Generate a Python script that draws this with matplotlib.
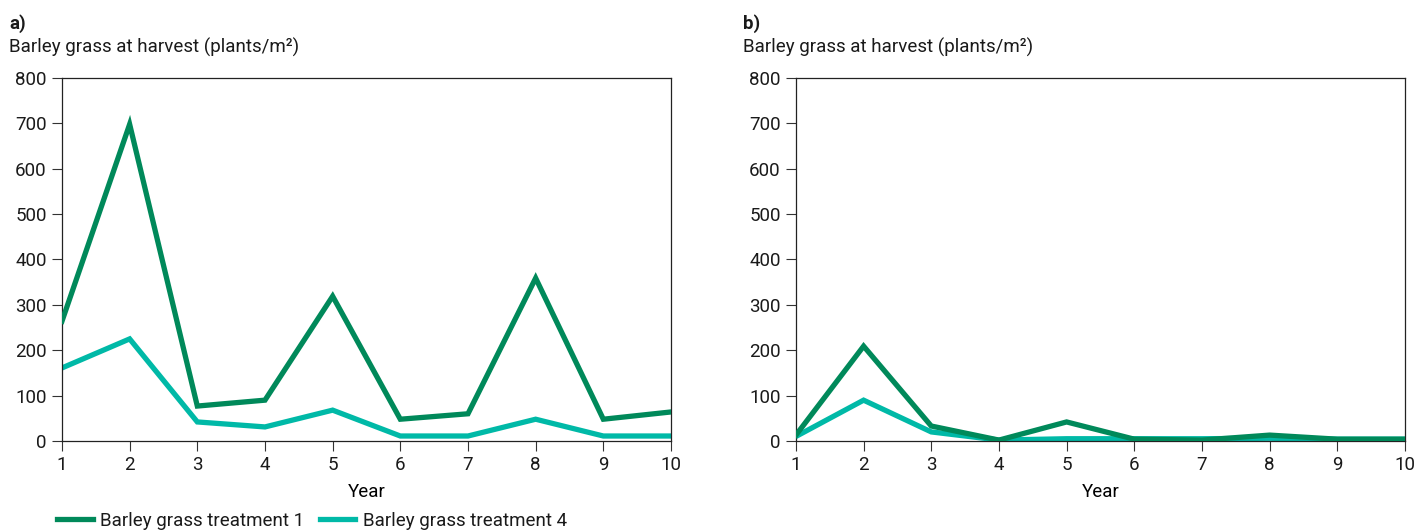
import matplotlib.pyplot as plt

years = [1, 2, 3, 4, 5, 6, 7, 8, 9, 10]
a_treat1 = [264, 698, 77, 90, 319, 48, 60, 359, 48, 64]
a_treat4 = [161, 225, 42, 31, 68, 11, 11, 48, 11, 11]
b_treat1 = [13, 209, 33, 2, 42, 4, 2, 13, 4, 4]
b_treat4 = [10, 90, 20, 2, 5, 5, 5, 6, 4, 4]
labels = ["Barley grass treatment 1", "Barley grass treatment 4"]
panels = ["a)", "b)"]

plt.rcParams['font.family'] = ['Roboto', 'DejaVu Sans']
plt.rcParams['text.color'] = '#1a1a1a'
plt.rcParams['xtick.color'] = '#333333'
plt.rcParams['ytick.color'] = '#333333'
plt.rcParams['xtick.labelcolor'] = '#1a1a1a'
plt.rcParams['ytick.labelcolor'] = '#1a1a1a'
c1 = "#00895a"
c4 = "#00b9a7"
fs = 13.5

fig = plt.figure(figsize=(14.15, 5.31), dpi=100)
lefts = [0.0438, 0.5625]
data = [(a_treat1, a_treat4), (b_treat1, b_treat4)]

for left, (t1, t4), name in zip(lefts, data, panels):
    ax = fig.add_axes([left, 0.1695, 0.4304, 0.6836])
    l1, = ax.plot(years, t1, color=c1, lw=3.8, solid_joinstyle="miter", label=labels[0])
    l4, = ax.plot(years, t4, color=c4, lw=3.8, solid_joinstyle="miter", label=labels[1])
    l1.set_zorder(3)
    ax.set_xlim(1, 10)
    ax.set_ylim(0, 800)
    ax.set_xticks(years)
    ax.set_yticks(range(0, 801, 100))
    ax.tick_params(labelsize=fs, length=7, width=0.8, pad=4)
    for s in ax.spines.values():
        s.set_linewidth(0.9)
        s.set_color("#222222")
    ax.set_xlabel("Year", fontsize=fs, labelpad=6)
    x0 = left - 0.0375
    fig.text(x0, 0.955, name, fontsize=fs, fontweight="bold", va="center")
    fig.text(x0, 0.91, "Barley grass at harvest (plants/m²)", fontsize=fs, va="center")
    if name == "a)":
        ax.legend(handles=[l1, l4], loc="upper left", bbox_to_anchor=(-0.02, -0.175),
                  ncol=2, frameon=False, fontsize=fs, handlelength=1.9,
                  columnspacing=0.8, handletextpad=0.4, borderaxespad=0)

fig.savefig("out.png", dpi=100)
